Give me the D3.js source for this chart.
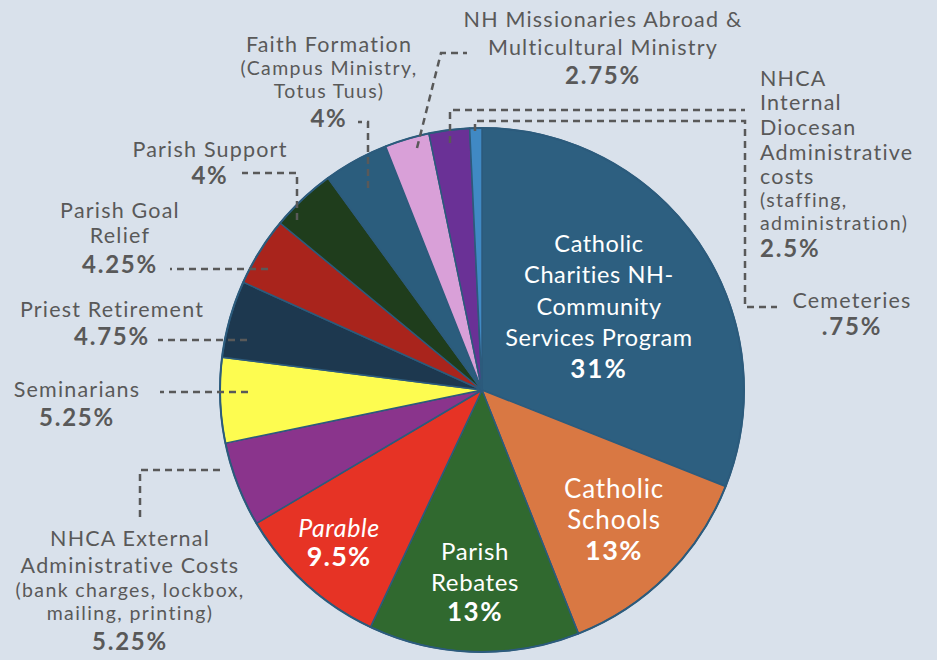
<!DOCTYPE html>
<html>
<head>
<meta charset="utf-8">
<script src="https://cdn.jsdelivr.net/npm/d3@7"></script>
<style>
  html, body { margin: 0; padding: 0; background: #D9E1EB; }
  svg { display: block; }
  text { font-family: Lato, "Open Sans", sans-serif; }
</style>
</head>
<body>
<svg id="chart" width="937" height="660"></svg>
<script>
// ---- data ----
const categories = [
  "Catholic Charities NH-Community Services Program",
  "Catholic Schools",
  "Parish Rebates",
  "Parable",
  "NHCA External Administrative Costs",
  "Seminarians",
  "Priest Retirement",
  "Parish Goal Relief",
  "Parish Support",
  "Faith Formation",
  "NH Missionaries Abroad & Multicultural Ministry",
  "NHCA Internal Diocesan Administrative costs",
  "Cemeteries"
];
const values = [31, 13, 13, 9.5, 5.25, 5.25, 4.75, 4.25, 4, 4, 2.75, 2.5, 0.75];
const percentLabels = ["31%", "13%", "13%", "9.5%", "5.25%", "5.25%", "4.75%", "4.25%", "4%", "4%", "2.75%", "2.5%", ".75%"];
const colors = ["#2D5F80", "#D97843", "#30692F", "#E63325", "#8A348C", "#FDFC50",
                "#1D384F", "#A9241C", "#1F3D1C", "#2B5D7D", "#D9A0D8", "#6A3196", "#4089C4"];

// label text lines: [text, style] style: n = normal, s = small, b = bold (percent), i = italic
const labelLines = [
  [["Catholic","n"],["Charities NH-","n"],["Community","n"],["Services Program","n"],[percentLabels[0],"b"]],
  [["Catholic","n"],["Schools","n"],[percentLabels[1],"b"]],
  [["Parish","n"],["Rebates","n"],[percentLabels[2],"b"]],
  [["Parable","i"],[percentLabels[3],"b"]],
  [["NHCA External","n"],["Administrative Costs","n"],["(bank charges, lockbox,","s"],["mailing, printing)","s"],[percentLabels[4],"b"]],
  [["Seminarians","n"],[percentLabels[5],"b"]],
  [["Priest Retirement","n"],[percentLabels[6],"b"]],
  [["Parish Goal","n"],["Relief","n"],[percentLabels[7],"b"]],
  [["Parish Support","n"],[percentLabels[8],"b"]],
  [["Faith Formation","n"],["(Campus Ministry,","s"],["Totus Tuus)","s"],[percentLabels[9],"b"]],
  [["NH Missionaries Abroad &","n"],["Multicultural Ministry","n"],[percentLabels[10],"b"]],
  [["NHCA","n"],["Internal","n"],["Diocesan","n"],["Administrative","n"],["costs","n"],["(staffing,","s"],["administration)","s"],[percentLabels[11],"b"]],
  [["Cemeteries","n"],[percentLabels[12],"b"]]
];

// ---- layout (positions / styles) ----
const W = 937, H = 660;
const cx = 482, cy = 390, R = 262;
const outside = {size: 21.5, ls: 1.2, small: 19.5, smallLs: 1.4, pct: 24, pctLs: 1.8};
const layout = [
  {inside: true, x: 599, ys: [252, 283, 315, 346, 378], size: 23.5, ls: 0.6, pct: 26, pctLs: 2},
  {inside: true, x: 614, ys: [498, 529, 560], size: 26, ls: 0.8, pct: 27, pctLs: 1.5},
  {inside: true, x: 475, ys: [560, 591, 621], size: 24, ls: 0.6, pct: 26, pctLs: 1.5},
  {inside: true, x: 339, ys: [537, 566], size: 25, ls: 0.6, pct: 27, pctLs: 1.2},
  {x: 130, anchor: "middle", ys: [546, 573, 597, 620, 650]},
  {x: 77, anchor: "middle", ys: [397, 426]},
  {x: 112, anchor: "middle", ys: [317, 345]},
  {x: 120, anchor: "middle", ys: [218, 243, 273]},
  {x: 210, anchor: "middle", ys: [157, 184]},
  {x: 329, anchor: "middle", ys: [52, 75, 98, 127]},
  {x: 603, anchor: "middle", ys: [27, 55, 84]},
  {x: 760, anchor: "start", ys: [86, 110, 135, 160, 184, 207, 230, 257]},
  {x: 852, anchor: "middle", ys: [308, 335]}
];
const leaders = [
  null, null, null, null,
  [[220,470],[140,470],[140,520]],
  [[248,392],[160,392]],
  [[247,340],[158,340]],
  [[268,269],[170,269]],
  [[297,220],[297,173],[242,173]],
  [[368,188],[368,122],[358,122]],
  [[417,148],[441,53],[467,53]],
  [[450,143],[450,110],[745,110]],
  [[475,131],[475,121],[745,121],[745,307],[777,307]]
];

const svg = d3.select("#chart");
svg.append("rect").attr("width", W).attr("height", H).attr("fill", "#D9E1EB");

const data = categories.map((c, i) => ({name: c, value: values[i], i}));
const pie = d3.pie().value(d => d.value).sort(null).startAngle(0).endAngle(2 * Math.PI);
const arc = d3.arc().innerRadius(0).outerRadius(R);
const color = d3.scaleOrdinal().domain(categories).range(colors);

const g = svg.append("g").attr("transform", `translate(${cx},${cy})`);
g.selectAll("path.slice")
  .data(pie(data))
  .join("path")
  .attr("class", "slice")
  .attr("d", arc)
  .attr("fill", d => color(d.data.name))
  .attr("stroke", "#2C5B7C")
  .attr("stroke-width", 1.5)
  .attr("stroke-linejoin", "round");

g.append("circle").attr("r", R).attr("fill", "none")
  .attr("stroke", "#2C5B7C").attr("stroke-width", 2);

// leader lines
const line = d3.line();
svg.selectAll("path.leader")
  .data(leaders.filter(d => d))
  .join("path")
  .attr("class", "leader")
  .attr("d", line)
  .attr("fill", "none")
  .attr("stroke", "#595959")
  .attr("stroke-width", 2.5)
  .attr("stroke-dasharray", "7,5");

// labels
labelLines.forEach((lines, i) => {
  const L = Object.assign({}, outside, layout[i]);
  const t = svg.append("text")
    .attr("text-anchor", L.anchor || "middle")
    .attr("fill", L.inside ? "#FFFFFF" : "#595959");
  lines.forEach(([txt, st], k) => {
    const ts = t.append("tspan")
      .attr("x", L.x)
      .attr("y", L.ys[k])
      .text(txt);
    if (st === "s") ts.attr("font-size", L.small).attr("letter-spacing", L.smallLs);
    else if (st === "b") ts.attr("font-size", L.pct).attr("font-weight", 700).attr("letter-spacing", L.pctLs);
    else if (st === "i") ts.attr("font-size", L.size).attr("font-style", "italic").attr("letter-spacing", L.ls);
    else ts.attr("font-size", L.size).attr("letter-spacing", L.ls);
  });
});
</script>
</body>
</html>
